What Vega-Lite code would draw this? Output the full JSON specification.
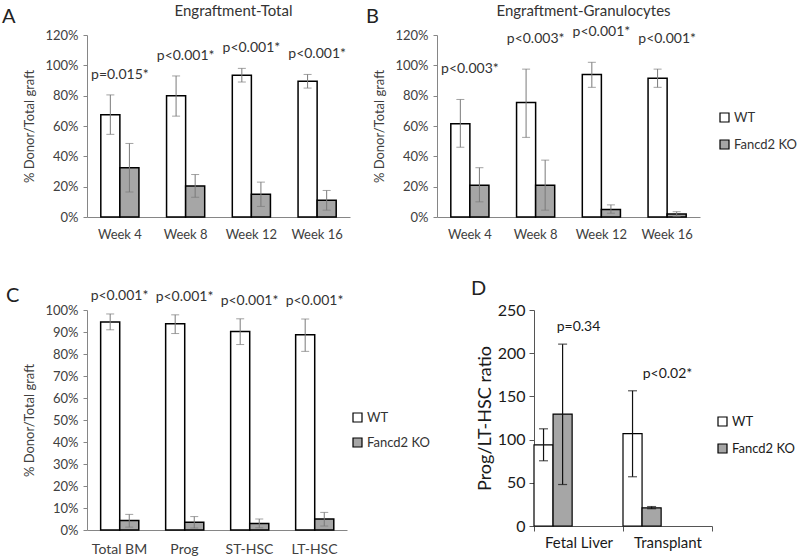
{
  "$schema": "https://vega.github.io/schema/vega-lite/v6.json",
  "padding": {"left": 2, "top": 3, "right": 0, "bottom": 0},
  "spacing": 38,
  "resolve": {"scale": {"fill": "independent"}, "legend": {"fill": "independent"}},
  "vconcat": [
    {
      "spacing": 16,
      "resolve": {"scale": {"fill": "independent"}, "legend": {"fill": "independent"}},
      "hconcat": [
        {
          "width": 263, "height": 182,
          "title": {"text": "A", "dx": -85, "dy": 28},
          "data": {"values": [
            {"cat": "Week 4", "g": "WT", "v": 67.5, "lo": 54.5, "hi": 80.5, "p": "p=0.015*"},
            {"cat": "Week 4", "g": "Fancd2 KO", "v": 32.5, "lo": 16.5, "hi": 48.5, "p": "p=0.015*"},
            {"cat": "Week 8", "g": "WT", "v": 80, "lo": 66.5, "hi": 93, "p": "p<0.001*"},
            {"cat": "Week 8", "g": "Fancd2 KO", "v": 20.5, "lo": 13, "hi": 28, "p": "p<0.001*"},
            {"cat": "Week 12", "g": "WT", "v": 93.5, "lo": 89, "hi": 98, "p": "p<0.001*"},
            {"cat": "Week 12", "g": "Fancd2 KO", "v": 15, "lo": 7, "hi": 23, "p": "p<0.001*"},
            {"cat": "Week 16", "g": "WT", "v": 89.5, "lo": 85, "hi": 94, "p": "p<0.001*"},
            {"cat": "Week 16", "g": "Fancd2 KO", "v": 11, "lo": 4.5, "hi": 17.5, "p": "p<0.001*"}
          ]},
          "layer": [
            {
              "mark": {"type": "bar", "stroke": "#000000", "strokeWidth": 1.5, "width": {"band": 1}},
              "encoding": {
                "x": {"field": "cat", "type": "nominal", "sort": ["Week 4", "Week 8", "Week 12", "Week 16"], "scale": {"type": "band", "paddingInner": 0.42, "paddingOuter": 0.21}, "axis": {"title": null, "ticks": false, "labelAngle": 0, "labelFontSize": 13, "labelPadding": 11}},
                "xOffset": {"field": "g", "type": "nominal", "sort": ["WT", "Fancd2 KO"], "scale": {"type": "band", "paddingInner": 0, "paddingOuter": 0}},
                "y": {"field": "v", "type": "quantitative", "title": "% Donor/Total graft", "scale": {"domain": [0, 120], "nice": false}, "axis": {"values": [0, 20, 40, 60, 80, 100, 120], "labelExpr": "datum.value + '%'", "labelOverlap": false, "labelFontSize": 13, "tickSize": 4, "labelPadding": 5, "titleFontSize": 13, "titlePadding": 8}},
                "fill": {"field": "g", "type": "nominal", "scale": {"domain": ["WT", "Fancd2 KO"], "range": ["#ffffff", "#a6a6a6"]}, "legend": null}
              }
            },
            {
              "mark": {"type": "rule", "color": "#7a7a7a", "strokeWidth": 1},
              "encoding": {
                "x": {"field": "cat", "type": "nominal", "sort": ["Week 4", "Week 8", "Week 12", "Week 16"], "scale": {"type": "band", "paddingInner": 0.42, "paddingOuter": 0.21}, "axis": null},
                "xOffset": {"field": "g", "type": "nominal", "sort": ["WT", "Fancd2 KO"], "scale": {"type": "band", "paddingInner": 0, "paddingOuter": 0}},
                "y": {"field": "lo", "type": "quantitative", "scale": {"domain": [0, 120], "nice": false}, "axis": null},
                "y2": {"field": "hi"}
              }
            },
            {
              "mark": {"type": "tick", "color": "#7a7a7a", "size": 8, "thickness": 1},
              "encoding": {
                "x": {"field": "cat", "type": "nominal", "sort": ["Week 4", "Week 8", "Week 12", "Week 16"], "scale": {"type": "band", "paddingInner": 0.42, "paddingOuter": 0.21}, "axis": null},
                "xOffset": {"field": "g", "type": "nominal", "sort": ["WT", "Fancd2 KO"], "scale": {"type": "band", "paddingInner": 0, "paddingOuter": 0}},
                "y": {"field": "lo", "type": "quantitative", "scale": {"domain": [0, 120], "nice": false}, "axis": null}
              }
            },
            {
              "mark": {"type": "tick", "color": "#7a7a7a", "size": 8, "thickness": 1},
              "encoding": {
                "x": {"field": "cat", "type": "nominal", "sort": ["Week 4", "Week 8", "Week 12", "Week 16"], "scale": {"type": "band", "paddingInner": 0.42, "paddingOuter": 0.21}, "axis": null},
                "xOffset": {"field": "g", "type": "nominal", "sort": ["WT", "Fancd2 KO"], "scale": {"type": "band", "paddingInner": 0, "paddingOuter": 0}},
                "y": {"field": "hi", "type": "quantitative", "scale": {"domain": [0, 120], "nice": false}, "axis": null}
              }
            },
            {
              "transform": [{"aggregate": [{"op": "max", "field": "hi", "as": "top"}], "groupby": ["cat", "p"]}],
              "mark": {"type": "text", "fontSize": 14, "dy": -20, "baseline": "middle", "color": "#333333"},
              "encoding": {
                "x": {"field": "cat", "type": "nominal", "sort": ["Week 4", "Week 8", "Week 12", "Week 16"], "scale": {"type": "band", "paddingInner": 0.42, "paddingOuter": 0.21}, "axis": {"orient": "top", "title": "Engraftment-Total", "labels": false, "ticks": false, "domain": false, "titleFontSize": 15, "titlePadding": 17, "titleX": 146, "titleColor": "#333333"}},
                "y": {"field": "top", "type": "quantitative", "scale": {"domain": [0, 120], "nice": false}, "axis": null},
                "text": {"field": "p"}
              }
            }
          ],
          "resolve": {"axis": {"x": "independent", "y": "independent"}}
        },
        {
          "width": 263, "height": 182,
          "title": {"text": "B", "dx": -71, "dy": 28},
          "data": {"values": [
            {"cat": "Week 4", "g": "WT", "v": 61.5, "lo": 46, "hi": 77.5, "p": "p<0.003*"},
            {"cat": "Week 4", "g": "Fancd2 KO", "v": 21, "lo": 10, "hi": 32.5, "p": "p<0.003*"},
            {"cat": "Week 8", "g": "WT", "v": 75.5, "lo": 52.5, "hi": 97.5, "p": "p<0.003*"},
            {"cat": "Week 8", "g": "Fancd2 KO", "v": 21, "lo": 4.5, "hi": 37.5, "p": "p<0.003*"},
            {"cat": "Week 12", "g": "WT", "v": 94, "lo": 85.5, "hi": 102, "p": "p<0.001*"},
            {"cat": "Week 12", "g": "Fancd2 KO", "v": 5, "lo": 2.5, "hi": 8, "p": "p<0.001*"},
            {"cat": "Week 16", "g": "WT", "v": 91.5, "lo": 85.5, "hi": 97.5, "p": "p<0.001*"},
            {"cat": "Week 16", "g": "Fancd2 KO", "v": 2, "lo": 0.5, "hi": 3.5, "p": "p<0.001*"}
          ]},
          "layer": [
            {
              "mark": {"type": "bar", "stroke": "#000000", "strokeWidth": 1.5, "width": {"band": 1}},
              "encoding": {
                "x": {"field": "cat", "type": "nominal", "sort": ["Week 4", "Week 8", "Week 12", "Week 16"], "scale": {"type": "band", "paddingInner": 0.42, "paddingOuter": 0.21}, "axis": {"title": null, "ticks": false, "labelAngle": 0, "labelFontSize": 13, "labelPadding": 11}},
                "xOffset": {"field": "g", "type": "nominal", "sort": ["WT", "Fancd2 KO"], "scale": {"type": "band", "paddingInner": 0, "paddingOuter": 0}},
                "y": {"field": "v", "type": "quantitative", "title": "% Donor/Total graft", "scale": {"domain": [0, 120], "nice": false}, "axis": {"values": [0, 20, 40, 60, 80, 100, 120], "labelExpr": "datum.value + '%'", "labelOverlap": false, "labelFontSize": 13, "tickSize": 4, "labelPadding": 5, "titleFontSize": 13, "titlePadding": 8}},
                "fill": {"field": "g", "type": "nominal", "scale": {"domain": ["WT", "Fancd2 KO"], "range": ["#ffffff", "#a6a6a6"]}, "legend": {"orient": "none", "legendX": 281, "legendY": 76, "title": null, "symbolType": "square", "symbolSize": 81, "symbolStrokeColor": "#000000", "symbolStrokeWidth": 1.2, "labelFontSize": 13, "labelOffset": 3, "rowPadding": 12, "labelColor": "#333333", "labelFont": "Lato"}}
              }
            },
            {
              "mark": {"type": "rule", "color": "#7a7a7a", "strokeWidth": 1},
              "encoding": {
                "x": {"field": "cat", "type": "nominal", "sort": ["Week 4", "Week 8", "Week 12", "Week 16"], "scale": {"type": "band", "paddingInner": 0.42, "paddingOuter": 0.21}, "axis": null},
                "xOffset": {"field": "g", "type": "nominal", "sort": ["WT", "Fancd2 KO"], "scale": {"type": "band", "paddingInner": 0, "paddingOuter": 0}},
                "y": {"field": "lo", "type": "quantitative", "scale": {"domain": [0, 120], "nice": false}, "axis": null},
                "y2": {"field": "hi"}
              }
            },
            {
              "mark": {"type": "tick", "color": "#7a7a7a", "size": 8, "thickness": 1},
              "encoding": {
                "x": {"field": "cat", "type": "nominal", "sort": ["Week 4", "Week 8", "Week 12", "Week 16"], "scale": {"type": "band", "paddingInner": 0.42, "paddingOuter": 0.21}, "axis": null},
                "xOffset": {"field": "g", "type": "nominal", "sort": ["WT", "Fancd2 KO"], "scale": {"type": "band", "paddingInner": 0, "paddingOuter": 0}},
                "y": {"field": "lo", "type": "quantitative", "scale": {"domain": [0, 120], "nice": false}, "axis": null}
              }
            },
            {
              "mark": {"type": "tick", "color": "#7a7a7a", "size": 8, "thickness": 1},
              "encoding": {
                "x": {"field": "cat", "type": "nominal", "sort": ["Week 4", "Week 8", "Week 12", "Week 16"], "scale": {"type": "band", "paddingInner": 0.42, "paddingOuter": 0.21}, "axis": null},
                "xOffset": {"field": "g", "type": "nominal", "sort": ["WT", "Fancd2 KO"], "scale": {"type": "band", "paddingInner": 0, "paddingOuter": 0}},
                "y": {"field": "hi", "type": "quantitative", "scale": {"domain": [0, 120], "nice": false}, "axis": null}
              }
            },
            {
              "transform": [{"aggregate": [{"op": "max", "field": "hi", "as": "top"}], "groupby": ["cat", "p"]}],
              "mark": {"type": "text", "fontSize": 14, "dy": -30, "baseline": "middle", "color": "#333333"},
              "encoding": {
                "x": {"field": "cat", "type": "nominal", "sort": ["Week 4", "Week 8", "Week 12", "Week 16"], "scale": {"type": "band", "paddingInner": 0.42, "paddingOuter": 0.21}, "axis": {"orient": "top", "title": "Engraftment-Granulocytes", "labels": false, "ticks": false, "domain": false, "titleFontSize": 15, "titlePadding": 17, "titleX": 146, "titleColor": "#333333"}},
                "y": {"field": "top", "type": "quantitative", "scale": {"domain": [0, 120], "nice": false}, "axis": null},
                "text": {"field": "p"}
              }
            }
          ],
          "resolve": {"axis": {"x": "independent", "y": "independent"}}
        }
      ]
    },
    {
      "spacing": 41,
      "resolve": {"scale": {"fill": "independent"}, "legend": {"fill": "independent"}},
      "hconcat": [
        {
          "width": 260, "height": 220,
          "title": {"text": "C", "dx": -81, "dy": 21},
          "data": {"values": [
            {"cat": "Total BM", "g": "WT", "v": 94.5, "lo": 91, "hi": 98.2, "p": "p<0.001*"},
            {"cat": "Total BM", "g": "Fancd2 KO", "v": 4.3, "lo": 1.3, "hi": 7.1, "p": "p<0.001*"},
            {"cat": "Prog", "g": "WT", "v": 93.7, "lo": 89.3, "hi": 97.8, "p": "p<0.001*"},
            {"cat": "Prog", "g": "Fancd2 KO", "v": 3.5, "lo": 0.9, "hi": 6.1, "p": "p<0.001*"},
            {"cat": "ST-HSC", "g": "WT", "v": 90.2, "lo": 84.3, "hi": 96, "p": "p<0.001*"},
            {"cat": "ST-HSC", "g": "Fancd2 KO", "v": 3, "lo": 1, "hi": 5, "p": "p<0.001*"},
            {"cat": "LT-HSC", "g": "WT", "v": 88.7, "lo": 81.2, "hi": 95.9, "p": "p<0.001*"},
            {"cat": "LT-HSC", "g": "Fancd2 KO", "v": 5, "lo": 1.8, "hi": 8, "p": "p<0.001*"}
          ]},
          "layer": [
            {
              "mark": {"type": "bar", "stroke": "#000000", "strokeWidth": 1.5, "width": {"band": 1}},
              "encoding": {
                "x": {"field": "cat", "type": "nominal", "sort": ["Total BM", "Prog", "ST-HSC", "LT-HSC"], "scale": {"type": "band", "paddingInner": 0.42, "paddingOuter": 0.21}, "axis": {"title": null, "ticks": false, "labelAngle": 0, "labelFontSize": 14, "labelPadding": 12}},
                "xOffset": {"field": "g", "type": "nominal", "sort": ["WT", "Fancd2 KO"], "scale": {"type": "band", "paddingInner": 0, "paddingOuter": 0}},
                "y": {"field": "v", "type": "quantitative", "title": "% Donor/Total graft", "scale": {"domain": [0, 100], "nice": false}, "axis": {"values": [0, 10, 20, 30, 40, 50, 60, 70, 80, 90, 100], "labelExpr": "datum.value + '%'", "labelOverlap": false, "labelFontSize": 13, "tickSize": 4, "labelPadding": 5, "titleFontSize": 13, "titlePadding": 8}},
                "fill": {"field": "g", "type": "nominal", "scale": {"domain": ["WT", "Fancd2 KO"], "range": ["#ffffff", "#a6a6a6"]}, "legend": {"orient": "none", "legendX": 264, "legendY": 101, "title": null, "symbolType": "square", "symbolSize": 81, "symbolStrokeColor": "#000000", "symbolStrokeWidth": 1.2, "labelFontSize": 13, "labelOffset": 3, "rowPadding": 10, "labelColor": "#333333", "labelFont": "Lato"}}
              }
            },
            {
              "mark": {"type": "rule", "color": "#7a7a7a", "strokeWidth": 1},
              "encoding": {
                "x": {"field": "cat", "type": "nominal", "sort": ["Total BM", "Prog", "ST-HSC", "LT-HSC"], "scale": {"type": "band", "paddingInner": 0.42, "paddingOuter": 0.21}, "axis": null},
                "xOffset": {"field": "g", "type": "nominal", "sort": ["WT", "Fancd2 KO"], "scale": {"type": "band", "paddingInner": 0, "paddingOuter": 0}},
                "y": {"field": "lo", "type": "quantitative", "scale": {"domain": [0, 100], "nice": false}, "axis": null},
                "y2": {"field": "hi"}
              }
            },
            {
              "mark": {"type": "tick", "color": "#7a7a7a", "size": 8, "thickness": 1},
              "encoding": {
                "x": {"field": "cat", "type": "nominal", "sort": ["Total BM", "Prog", "ST-HSC", "LT-HSC"], "scale": {"type": "band", "paddingInner": 0.42, "paddingOuter": 0.21}, "axis": null},
                "xOffset": {"field": "g", "type": "nominal", "sort": ["WT", "Fancd2 KO"], "scale": {"type": "band", "paddingInner": 0, "paddingOuter": 0}},
                "y": {"field": "lo", "type": "quantitative", "scale": {"domain": [0, 100], "nice": false}, "axis": null}
              }
            },
            {
              "mark": {"type": "tick", "color": "#7a7a7a", "size": 8, "thickness": 1},
              "encoding": {
                "x": {"field": "cat", "type": "nominal", "sort": ["Total BM", "Prog", "ST-HSC", "LT-HSC"], "scale": {"type": "band", "paddingInner": 0.42, "paddingOuter": 0.21}, "axis": null},
                "xOffset": {"field": "g", "type": "nominal", "sort": ["WT", "Fancd2 KO"], "scale": {"type": "band", "paddingInner": 0, "paddingOuter": 0}},
                "y": {"field": "hi", "type": "quantitative", "scale": {"domain": [0, 100], "nice": false}, "axis": null}
              }
            },
            {
              "transform": [{"aggregate": [{"op": "max", "field": "hi", "as": "top"}], "groupby": ["cat", "p"]}],
              "mark": {"type": "text", "fontSize": 14, "dy": -18, "baseline": "middle", "color": "#333333"},
              "encoding": {
                "x": {"field": "cat", "type": "nominal", "sort": ["Total BM", "Prog", "ST-HSC", "LT-HSC"], "scale": {"type": "band", "paddingInner": 0.42, "paddingOuter": 0.21}, "axis": null},
                "y": {"field": "top", "type": "quantitative", "scale": {"domain": [0, 100], "nice": false}, "axis": null},
                "text": {"field": "p"}
              }
            }
          ],
          "resolve": {"axis": {"x": "independent", "y": "independent"}}
        },
        {
          "width": 178, "height": 216,
          "title": {"text": "D", "dx": -63, "dy": 1},
          "data": {"values": [
            {"cat": "Fetal Liver", "g": "WT", "v": 94, "lo": 75.5, "hi": 112.5, "p": "p=0.34"},
            {"cat": "Fetal Liver", "g": "Fancd2 KO", "v": 129.5, "lo": 48, "hi": 210.5, "p": "p=0.34"},
            {"cat": "Transplant", "g": "WT", "v": 107, "lo": 57, "hi": 156.5, "p": "p<0.02*"},
            {"cat": "Transplant", "g": "Fancd2 KO", "v": 21, "lo": 20, "hi": 22.5, "p": "p<0.02*"}
          ]},
          "layer": [
            {
              "mark": {"type": "bar", "stroke": "#000000", "strokeWidth": 1.2, "width": {"band": 1}},
              "encoding": {
                "x": {"field": "cat", "type": "nominal", "sort": ["Fetal Liver", "Transplant"], "scale": {"type": "band", "paddingInner": 0, "paddingOuter": 0}, "axis": {"title": null, "ticks": true, "tickBand": "extent", "tickSize": 5, "labelAngle": 0, "labelFontSize": 15, "labelPadding": 4, "labelColor": "#1a1a1a", "domainColor": "#555555", "tickColor": "#555555"}},
                "xOffset": {"field": "g", "type": "nominal", "sort": ["WT", "Fancd2 KO"], "scale": {"type": "band", "paddingInner": 0.16, "paddingOuter": 0.86}},
                "y": {"field": "v", "type": "quantitative", "title": "Prog/LT-HSC ratio", "scale": {"domain": [0, 250], "nice": false}, "axis": {"values": [0, 50, 100, 150, 200, 250], "labelOverlap": false, "labelFontSize": 16, "tickSize": 5, "labelPadding": 4, "titleFontSize": 18, "titlePadding": 3, "labelColor": "#1a1a1a", "titleColor": "#1a1a1a", "domainColor": "#555555", "tickColor": "#555555"}},
                "fill": {"field": "g", "type": "nominal", "scale": {"domain": ["WT", "Fancd2 KO"], "range": ["#ffffff", "#a6a6a6"]}, "legend": {"orient": "none", "legendX": 182, "legendY": 105, "title": null, "symbolType": "square", "symbolSize": 81, "symbolStrokeColor": "#000000", "symbolStrokeWidth": 1.2, "labelFontSize": 13, "labelOffset": 3, "rowPadding": 12, "labelColor": "#1a1a1a", "labelFont": "Lato"}}
              }
            },
            {
              "mark": {"type": "rule", "color": "#111111", "strokeWidth": 1.2},
              "encoding": {
                "x": {"field": "cat", "type": "nominal", "sort": ["Fetal Liver", "Transplant"], "scale": {"type": "band", "paddingInner": 0, "paddingOuter": 0}, "axis": null},
                "xOffset": {"field": "g", "type": "nominal", "sort": ["WT", "Fancd2 KO"], "scale": {"type": "band", "paddingInner": 0.16, "paddingOuter": 0.86}},
                "y": {"field": "lo", "type": "quantitative", "scale": {"domain": [0, 250], "nice": false}, "axis": null},
                "y2": {"field": "hi"}
              }
            },
            {
              "mark": {"type": "tick", "color": "#111111", "size": 9, "thickness": 1.2},
              "encoding": {
                "x": {"field": "cat", "type": "nominal", "sort": ["Fetal Liver", "Transplant"], "scale": {"type": "band", "paddingInner": 0, "paddingOuter": 0}, "axis": null},
                "xOffset": {"field": "g", "type": "nominal", "sort": ["WT", "Fancd2 KO"], "scale": {"type": "band", "paddingInner": 0.16, "paddingOuter": 0.86}},
                "y": {"field": "lo", "type": "quantitative", "scale": {"domain": [0, 250], "nice": false}, "axis": null}
              }
            },
            {
              "mark": {"type": "tick", "color": "#111111", "size": 9, "thickness": 1.2},
              "encoding": {
                "x": {"field": "cat", "type": "nominal", "sort": ["Fetal Liver", "Transplant"], "scale": {"type": "band", "paddingInner": 0, "paddingOuter": 0}, "axis": null},
                "xOffset": {"field": "g", "type": "nominal", "sort": ["WT", "Fancd2 KO"], "scale": {"type": "band", "paddingInner": 0.16, "paddingOuter": 0.86}},
                "y": {"field": "hi", "type": "quantitative", "scale": {"domain": [0, 250], "nice": false}, "axis": null}
              }
            },
            {
              "transform": [{"aggregate": [{"op": "max", "field": "hi", "as": "top"}], "groupby": ["cat", "p"]}],
              "mark": {"type": "text", "fontSize": 14, "dy": -17, "baseline": "middle", "color": "#1a1a1a"},
              "encoding": {
                "x": {"field": "cat", "type": "nominal", "sort": ["Fetal Liver", "Transplant"], "scale": {"type": "band", "paddingInner": 0, "paddingOuter": 0}, "axis": null},
                "y": {"field": "top", "type": "quantitative", "scale": {"domain": [0, 250], "nice": false}, "axis": null},
                "text": {"field": "p"}
              }
            }
          ],
          "resolve": {"axis": {"x": "independent", "y": "independent"}}
        }
      ]
    }
  ],
  "config": {
    "view": {"stroke": null},
    "font": "Lato",
    "axis": {"grid": false, "labelFont": "Lato", "titleFont": "Lato", "titleFontWeight": "normal", "labelColor": "#404040", "titleColor": "#404040", "domainColor": "#868686", "tickColor": "#868686", "domainWidth": 1},
    "title": {"font": "Lato", "fontWeight": "normal", "fontSize": 20, "color": "#222222", "anchor": "start", "frame": "group"},
    "text": {"font": "Lato"},
    "legend": {"labelFont": "Lato"}
  }
}
